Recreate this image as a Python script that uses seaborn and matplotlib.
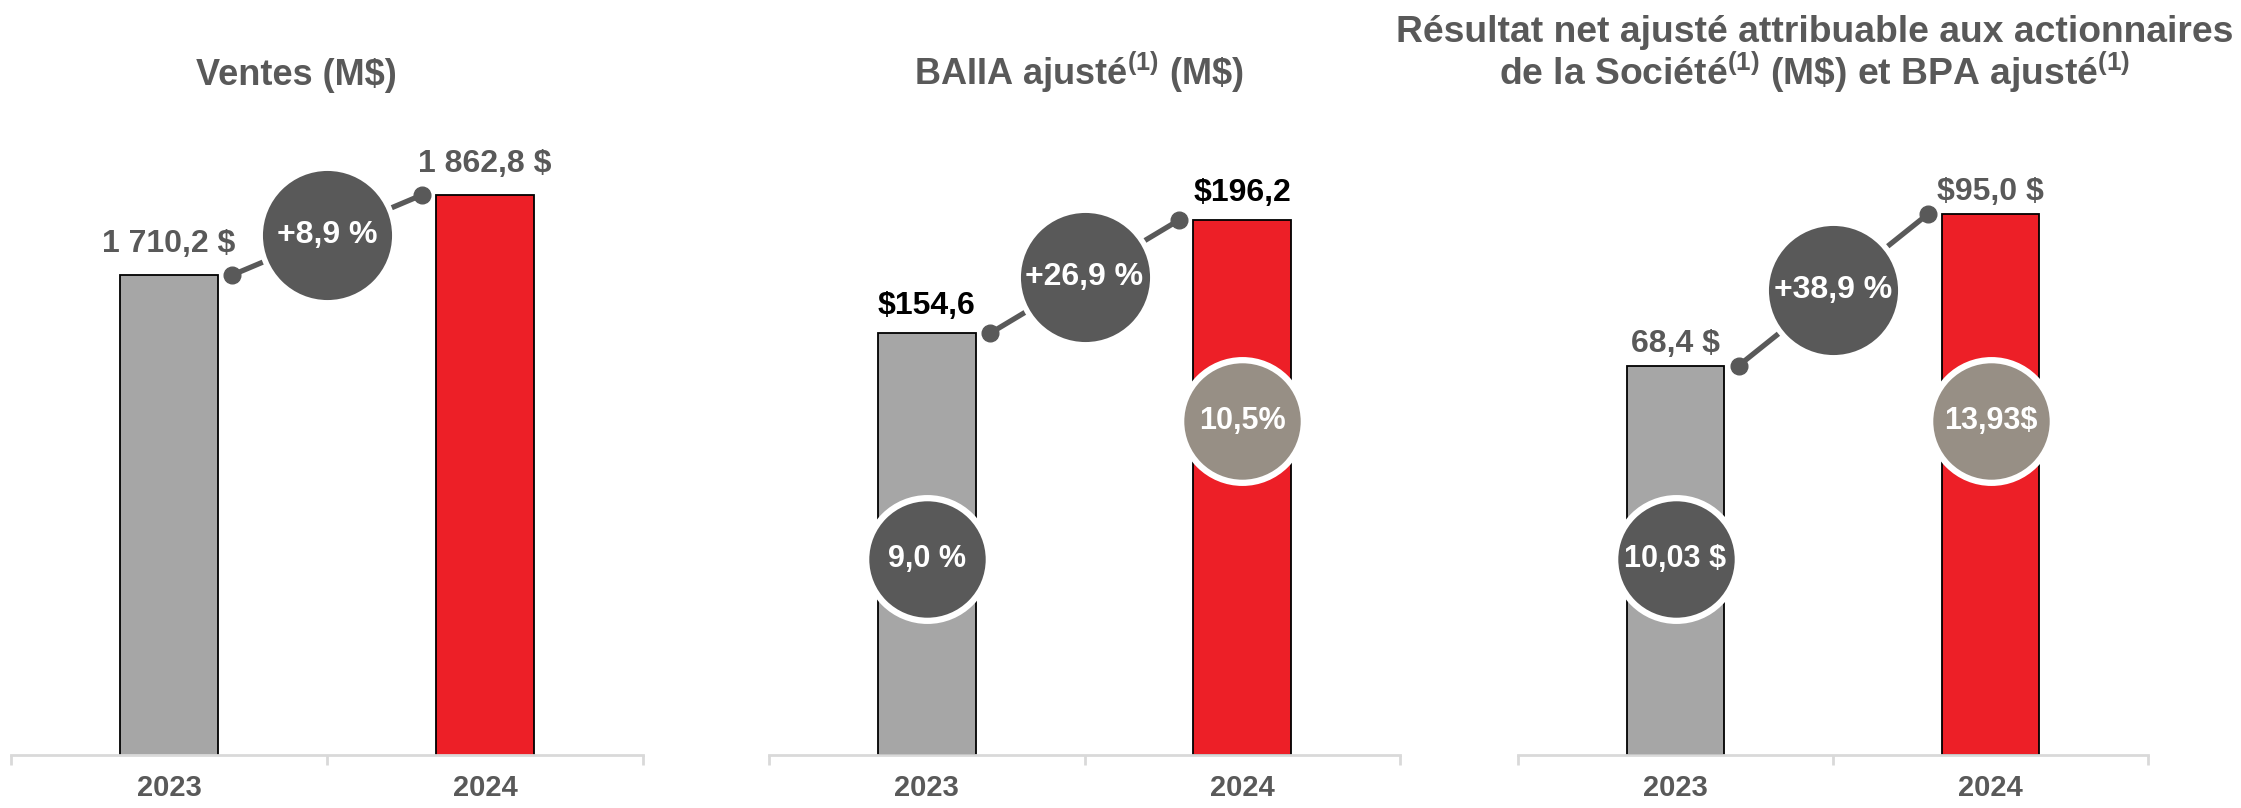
import matplotlib

matplotlib.use("Agg")
import matplotlib.pyplot as plt
import matplotlib.transforms as mtransforms
import numpy as np
import pandas as pd
import seaborn as sns

# --- data -------------------------------------------------------------
YEARS = ["2023", "2024"]

SALES = [1710.2, 1862.8]
SALES_LABELS = ["1 710,2 \\$", "1 862,8 \\$"]
SALES_GROWTH = "+8,9 %"

EBITDA = [154.6, 196.2]
EBITDA_LABELS = ["\\$154,6", "\\$196,2"]
EBITDA_GROWTH = "+26,9 %"
EBITDA_MARGIN = ["9,0 %", "10,5%"]

NET = [68.4, 95.0]
NET_LABELS = ["68,4 \\$", "\\$95,0 \\$"]
NET_GROWTH = "+38,9 %"
EPS = ["10,03 \\$", "13,93\\$"]

TITLE_SALES = "Ventes (M\\$)"
TITLE_EBITDA = "BAIIA ajusté$^{(1)}$ (M\\$)"
TITLE_NET = ["Résultat net ajusté attribuable aux actionnaires",
             "de la Société$^{(1)}$ (M\\$) et BPA ajusté$^{(1)}$"]

# --- style ------------------------------------------------------------
GRAY_BAR = "#a6a6a6"
RED_BAR = "#ed1f27"
DARK = "#595959"
TAUPE = "#978f85"
AXIS = "#d9d9d9"

sns.set_theme(style="white")
plt.rcParams["font.family"] = ["Liberation Sans", "DejaVu Sans"]
plt.rcParams["font.weight"] = "bold"
plt.rcParams["mathtext.fontset"] = "custom"
plt.rcParams["mathtext.rm"] = "Liberation Sans:bold"
plt.rcParams["mathtext.it"] = "Liberation Sans:bold"
plt.rcParams["mathtext.bf"] = "Liberation Sans:bold"

BAR_W = 0.31
GAP = 0.045


def draw_panel(ax, values, labels, growth, label_color, ylim, label_off,
               inner=None, inner_colors=None):
    df = pd.DataFrame({"year": YEARS, "value": values})
    sns.barplot(
        data=df, x="year", y="value", hue="year",
        palette=[GRAY_BAR, RED_BAR], width=BAR_W, saturation=1,
        edgecolor="black", linewidth=1.3, legend=False, ax=ax, zorder=2,
    )
    ax.set_xlim(-0.5, 1.5)
    ax.set_ylim(*ylim)
    ax.set_xlabel("")
    ax.set_ylabel("")
    ax.set_yticks([])
    for s in ["left", "right", "top"]:
        ax.spines[s].set_visible(False)
    ax.spines["bottom"].set_color(AXIS)
    ax.spines["bottom"].set_linewidth(2)
    ax.set_xticks([-0.5, 0.5, 1.5], minor=True)
    ax.tick_params(axis="x", which="minor", length=7, width=2, color=AXIS,
                   direction="out", bottom=True)
    ax.tick_params(axis="x", which="major", length=0, pad=14, labelsize=21,
                   labelcolor=DARK)
    for t in ax.get_xticklabels():
        t.set_fontweight("bold")

    # value labels above bars
    for i, (v, lab) in enumerate(zip(values, labels)):
        ax.annotate(lab, (i, v), xytext=(0, label_off), textcoords="offset points",
                    ha="center", va="baseline", fontsize=23, fontweight="bold",
                    color=label_color)

    # growth connector + bubble
    x1 = BAR_W / 2 + GAP
    x2 = 1 - BAR_W / 2 - GAP
    ax.plot([x1, x2], [values[0], values[1]], color=DARK, lw=3.8, zorder=4,
            solid_capstyle="butt")
    ax.plot([x1, x2], [values[0], values[1]], ls="none", marker="o", ms=12,
            color=DARK, zorder=4)
    ymid = np.mean(values)
    ax.scatter([0.5], [ymid], s=9400, color=DARK, edgecolor="white",
               linewidth=4, zorder=5)
    ax.text(0.5, ymid, growth, ha="center", va="center", fontsize=23,
            fontweight="bold", color="white", zorder=6)

    # circles sitting on the bars (margin / EPS)
    if inner is not None:
        trans = mtransforms.blended_transform_factory(ax.transData, ax.transAxes)
        for i, (txt, c, yf) in enumerate(zip(inner, inner_colors, [0.30, 0.51])):
            ax.scatter([i], [yf], s=7800, color=c, edgecolor="white",
                       linewidth=4.5, zorder=5, transform=trans)
            ax.text(i, yf, txt, ha="center", va="center", fontsize=22,
                    fontweight="bold", color="white", zorder=6, transform=trans)


fig = plt.figure(figsize=(22.41, 8.08), dpi=100)
W, H = 2241, 808
base = 755
top = 100
rects = [(11, 632), (769, 631), (1518, 630)]
axes = [fig.add_axes([l / W, 1 - base / H, w / W, (base - top) / H]) for l, w in rects]

draw_panel(axes[0], SALES, SALES_LABELS, SALES_GROWTH, DARK, (795, 2044), 16.5)
draw_panel(axes[1], EBITDA, EBITDA_LABELS, EBITDA_GROWTH, "black", (0, 240.2), 13.7,
           EBITDA_MARGIN, [DARK, TAUPE])
draw_panel(axes[2], NET, NET_LABELS, NET_GROWTH, DARK, (0, 115.1), 10,
           EPS, [DARK, TAUPE])

# titles
title_kw = dict(ha="center", va="baseline", fontweight="bold", color=DARK)
fig.text(296 / W, 1 - 85 / H, TITLE_SALES, fontsize=26, **title_kw)
fig.text(1079 / W, 1 - 85 / H, TITLE_EBITDA, fontsize=26, **title_kw)
fig.text(1815 / W, 1 - 42 / H, TITLE_NET[0], fontsize=26.8, **title_kw)
fig.text(1815 / W, 1 - 85 / H, TITLE_NET[1], fontsize=26.8, **title_kw)

fig.savefig("out.png", dpi=100, facecolor="white")
